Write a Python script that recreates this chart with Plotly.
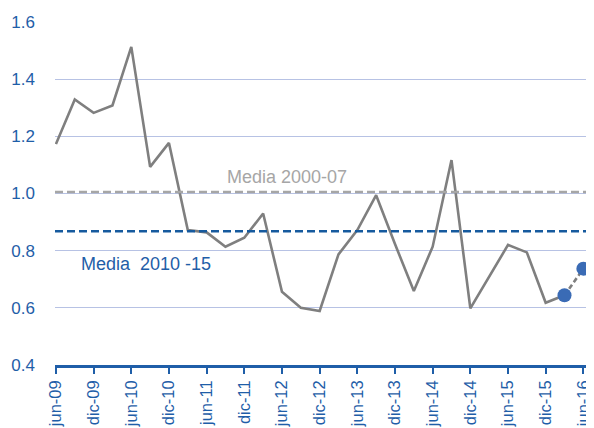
import plotly.graph_objects as go

quarters = ["jun-09","sep-09","dic-09","mar-10","jun-10","sep-10","dic-10","mar-11",
            "jun-11","sep-11","dic-11","mar-12","jun-12","sep-12","dic-12","mar-13",
            "jun-13","sep-13","dic-13","mar-14","jun-14","sep-14","dic-14","mar-15",
            "jun-15","sep-15","dic-15","mar-16","jun-16"]
ratio = [1.173,1.329,1.282,1.308,1.513,1.093,1.177,0.872,
         0.864,0.814,0.845,0.930,0.656,0.600,0.589,0.787,
         0.872,0.994,0.823,0.659,0.814,1.117,0.598,0.709,
         0.820,0.794,0.618,0.644,0.737]
n_obs = 28  # observed points (through mar-16); last is forecast
mean_2000_07 = 1.005
mean_2010_15 = 0.868
tick_labels = quarters[::2]

idx = list(range(len(quarters)))
blue = "#1f5ea8"
gray = "#7f7f7f"

fig = go.Figure()
fig.add_hline(y=mean_2000_07, line=dict(color="#a6a6a6", width=2.5, dash="8px,4px"))
fig.add_hline(y=mean_2010_15, line=dict(color="#165a9e", width=2.5, dash="8px,4px"))

fig.add_trace(go.Scatter(x=idx[:n_obs], y=ratio[:n_obs], mode="lines",
                         line=dict(color=gray, width=2.6), showlegend=False))
fig.add_trace(go.Scatter(x=idx[n_obs-1:], y=ratio[n_obs-1:], mode="lines+markers",
                         line=dict(color=gray, width=2.6, dash="5px,3px"),
                         marker=dict(color="#3a6bb5", size=14),
                         showlegend=False, cliponaxis=False))

fig.add_annotation(x=12.29, y=1.057, text="Media 2000-07", showarrow=False,
                   font=dict(color="#a6a6a6", size=18, family="Liberation Sans"))
fig.add_annotation(x=4.78, y=0.755, text="Media\u00a0\u00a02010\u00a0-15", showarrow=False,
                   font=dict(color=blue, size=18, family="Liberation Sans"))

fig.update_xaxes(range=[-0.05, 28.3], tickmode="array", tickvals=idx[::2],
                 ticktext=tick_labels, tickangle=-90, showgrid=False,
                 showline=True, linecolor=blue, linewidth=2.5,
                 ticks="outside", ticklen=6, tickwidth=2, tickcolor=blue,
                 tickfont=dict(color=blue, size=16.5, family="Liberation Sans"),
                 zeroline=False, automargin=False)
fig.update_yaxes(range=[0.4, 1.6], tickvals=[0.4,0.6,0.8,1.0,1.2,1.4,1.6],
                 tickformat=".1f", showgrid=True, gridcolor="#b7c2e4", gridwidth=1,
                 zeroline=False, showline=False, ticks="", ticklabelstandoff=19,
                 tickfont=dict(color=blue, size=17, family="Liberation Sans"),
                 automargin=False)

# page body has an 8px margin: offset the margins so the plot area lands in place
fig.update_layout(width=594, height=428, margin=dict(l=47, r=13, t=14, b=71),
                  plot_bgcolor="white", paper_bgcolor="white")
fig.write_html("out.html")
